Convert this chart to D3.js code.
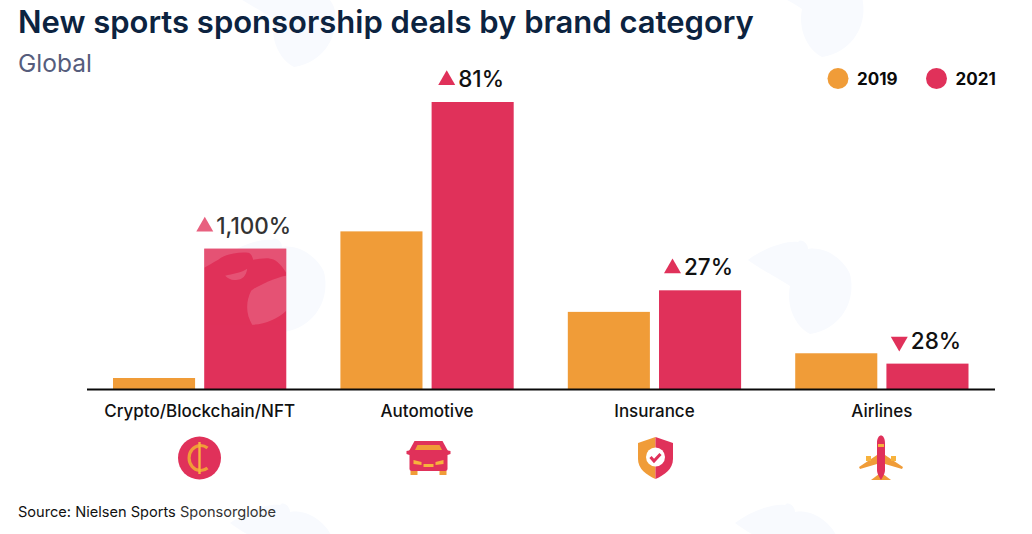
<!DOCTYPE html>
<html lang="en">

<head>
  <meta charset="UTF-8">
  <title>New sports sponsorship deals by brand category</title>
  <style>
    html, body { margin: 0; padding: 0; background: #fff; }
    svg { display: block; font-family: Inter, "Noto Sans", sans-serif; }
  </style>
</head>

<body>
  <div id="chart"></div>
  <script src="https://d3js.org/d3.v7.min.js"></script>
  <script>
    const categories = ['Crypto/Blockchain/NFT', 'Automotive', 'Insurance', 'Airlines']
    const years = ['2019', '2021']
    // tallest bar = 100 (the source gives no y axis)
    const values2019 = [4, 55, 27, 12.6]
    const values2021 = [49, 100, 34.5, 9]
    const changeLabels = ['1,100%', '81%', '27%', '28%']
    const changeDirections = ['up', 'up', 'up', 'down']

    const ORANGE = '#f09c38'
    const RED = '#e0315a'
    const w = 1032, h = 534
    const baseY = 389.5

    const svg = d3.select('#chart').append('svg').attr('width', w).attr('height', h)

    const x0 = d3.scaleBand().domain(categories).range([113, 968.5]).paddingInner(0.238)
    const x1 = d3.scaleBand().domain(years).range([0, x0.bandwidth()]).paddingInner(0.1)
    const y = d3.scaleLinear().domain([0, 100]).range([baseY, 102])
    const color = d3.scaleOrdinal().domain(years).range([ORANGE, RED])

    // pale eagle watermark behind the chart
    const eagle = 'M-60,-22 C-42,-36 -18,-42 -10,-40 C-8,-44 0,-40 0,-33 C18,-36 36,-22 42,-8 C48,16 36,46 2,52 C-14,44 -22,22 -18,4 C-30,-4 -50,-14 -60,-22 Z'
    const wm = svg.append('g')
    const tiles = [[282, 280], [808, 282], [292, 15], [820, 5], [290, 545], [795, 545]]
    tiles.forEach(t => {
      wm.append('path')
        .attr('d', eagle)
        .attr('transform', `translate(${t[0]},${t[1]})`)
        .attr('fill', '#f8fafe')
    })

    // title
    svg.append('text').attr('x', 18).attr('y', 33)
      .attr('font-size', 31).attr('font-weight', 600).attr('fill', '#0c2340')
      .text('New sports sponsorship deals by brand category')
    svg.append('text').attr('x', 18).attr('y', 72)
      .attr('font-size', 24.5).attr('fill', '#565d7c')
      .text('Global')

    // legend
    const legendX = [838, 936.5]
    years.forEach((yr, i) => {
      svg.append('circle').attr('cx', legendX[i]).attr('cy', 78.5).attr('r', 10.5).attr('fill', color(yr))
      svg.append('text').attr('x', legendX[i] + 19).attr('y', 84.5)
        .attr('font-size', 17).attr('font-weight', 700).attr('fill', '#0a0a0a')
        .text(yr)
    })

    // bars
    const groups = svg.selectAll('.group')
      .data(categories)
      .enter()
      .append('g')
      .attr('class', 'group')
      .attr('transform', d => `translate(${x0(d)},0)`)

    groups.selectAll('rect')
      .data((d, i) => [
        { year: '2019', value: values2019[i] },
        { year: '2021', value: values2021[i] }
      ])
      .enter()
      .append('rect')
      .attr('x', d => x1(d.year))
      .attr('y', d => y(d.value))
      .attr('width', x1.bandwidth())
      .attr('height', d => baseY - y(d.value))
      .attr('fill', d => color(d.year))

    // the watermark shows through the first red bar as lighter patches
    const barX = x0(categories[0]) + x1('2021')
    const barTop = y(values2021[0])
    svg.append('clipPath').attr('id', 'bar-clip')
      .append('rect')
      .attr('width', x1.bandwidth()).attr('height', baseY - barTop)
    svg.append('g')
      .attr('transform', `translate(${barX},${barTop})`)
      .attr('clip-path', 'url(#bar-clip)')
      .attr('fill', '#fff').attr('opacity', 0.16)
      .selectAll('path')
      .data([
        'M0,0 L82,0 L82,24 C76,14 70,10 66,10 C60,9 52,11 49,11 C48,7 46,4 44,4 C34,3 22,5 14,11 C8,14 4,17 0,19 Z',
        'M21,27 C28,25 38,24 43,20 C42,27 38,31 33,31 C28,32 24,30 21,27 Z',
        'M82,27 C70,29 52,38 47,42 C41,54 42,66 48,76 C60,76 74,70 82,62 Z'
      ])
      .enter()
      .append('path')
      .attr('d', d => d)

    // change labels over the 2021 bars
    categories.forEach((c, i) => {
      const cx = x0(c) + x1('2021') + x1.bandwidth() / 2 - 2
      const top = y(values2021[i])
      const faded = i === 0
      const g = svg.append('g')
      const t = g.append('text')
        .attr('y', top - 15)
        .attr('font-size', 22.5).attr('font-weight', 500)
        .attr('fill', faded ? '#333' : '#111')
        .text(changeLabels[i])
      const len = t.node().getComputedTextLength()
      const left = cx - (len + 19) / 2
      t.attr('x', left + 20)
      g.append('path')
        .attr('d', d3.symbol(d3.symbolTriangle, 125))
        .attr('transform', changeDirections[i] === 'up'
          ? `translate(${left + 8.5},${top - 22})`
          : `translate(${left + 8.5},${top - 22}) rotate(180)`)
        .attr('fill', faded ? '#e8607f' : RED)
    })

    // axis
    const axis = svg.append('g')
      .attr('transform', `translate(0,${baseY})`)
      .call(d3.axisBottom(x0).tickSize(0).tickPadding(15))
    axis.select('.domain').remove()
    axis.selectAll('text')
      .attr('font-family', 'Inter, sans-serif')
      .attr('font-size', 17).attr('font-weight', 500).attr('fill', '#111')
    svg.append('line')
      .attr('x1', 87).attr('x2', 995).attr('y1', baseY).attr('y2', baseY)
      .attr('stroke', '#0a0a0a').attr('stroke-width', 2)

    // category icons
    const coin = svg.append('g').attr('transform', 'translate(199.5,458)')
    coin.append('circle').attr('r', 21.5).attr('fill', RED)
    coin.append('path').attr('d', 'M8,-10 A11.5,12.5 0 1 0 8,10').attr('fill', 'none')
      .attr('stroke', ORANGE).attr('stroke-width', 3.2)
    coin.append('line').attr('y1', -16).attr('y2', 16).attr('stroke', '#f7b23c').attr('stroke-width', 2.4)

    const car = svg.append('g').attr('transform', 'translate(428.5,458)')
    car.append('path').attr('d', 'M-14,-17 L14,-17 L20,-6 L-20,-6 Z').attr('fill', RED)
    car.append('path').attr('d', 'M-11,-13 L11,-13 L15,-5 L-15,-5 Z').attr('fill', ORANGE)
    car.append('path').attr('d', 'M-18,13 L-11,13 L-11,17 L-18,17 Z M11,13 L18,13 L18,17 L11,17 Z').attr('fill', ORANGE)
    car.append('path').attr('d', 'M-22,-7 L-17,-8 L17,-8 L22,-7 L22,-4 L19,-3 L19,11 Q19,13 17,13 L-17,13 Q-19,13 -19,11 L-19,-3 L-22,-4 Z').attr('fill', RED)
    car.append('path').attr('d', 'M-15,2 L-7,4 L-7,7 L-15,6 Z M15,2 L7,4 L7,7 L15,6 Z M-5,6 L5,6 L5,9 L-5,9 Z').attr('fill', '#f7b23c')

    const shield = svg.append('g').attr('transform', 'translate(655.5,458)')
    shield.append('path').attr('d', 'M0,-21 L-17.5,-15 L-17.5,1 C-17.5,11 -9,17 0,21 Z').attr('fill', ORANGE)
    shield.append('path').attr('d', 'M0,-21 L17.5,-15 L17.5,1 C17.5,11 9,17 0,21 Z').attr('fill', RED)
    shield.append('circle').attr('cy', -1).attr('r', 9.5).attr('fill', '#fff')
    shield.append('path').attr('d', 'M-5,-1 L-1.5,3 L5,-4').attr('fill', 'none')
      .attr('stroke', RED).attr('stroke-width', 3)

    const plane = svg.append('g').attr('transform', 'translate(881,458)')
    plane.append('path').attr('d', 'M-4,-3 L-22,9 L-21,11 L-4,6 Z M4,-3 L22,9 L21,11 L4,6 Z').attr('fill', ORANGE)
    plane.append('path').attr('d', 'M-15,-2 h5 v5 h-5 Z M10,-2 h5 v5 h-5 Z').attr('fill', '#f7b23c')
    plane.append('path').attr('d', 'M-10,22 L-2,16 L2,16 L10,22 Z').attr('fill', ORANGE)
    plane.append('path').attr('d', 'M-4,-15 C-4,-25 4,-25 4,-15 L4,12 C4,16 1,20 0,22 C-1,20 -4,16 -4,12 Z').attr('fill', RED)
    plane.append('rect').attr('x', -3).attr('y', -14).attr('width', 6).attr('height', 3).attr('fill', '#f7b23c')

    // source
    const src = svg.append('text').attr('x', 18).attr('y', 517)
      .attr('font-size', 14.6).attr('fill', '#111')
    src.append('tspan').text('Source: Nielsen Sports ')
    src.append('tspan').attr('fill', '#333').text('Sponsorglobe')
  </script>
</body>

</html>
